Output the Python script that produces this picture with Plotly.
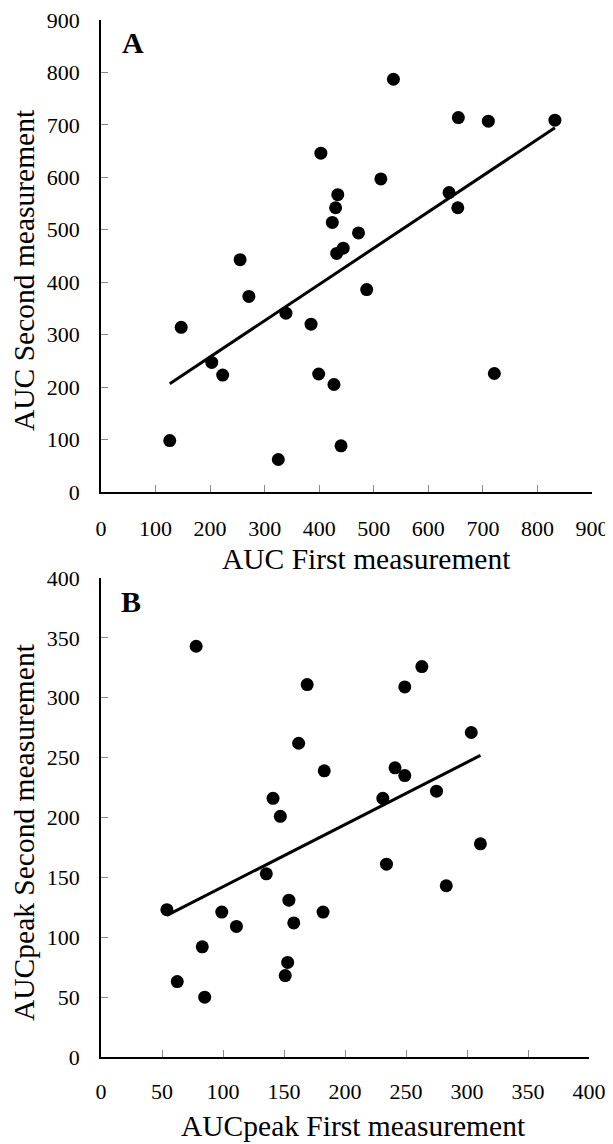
import numpy as np
import plotly.graph_objects as go

# Panel A: AUC
auc_first = [536, 655, 710, 832, 403, 513, 638, 654, 434, 430, 424, 472, 444, 432,
             255, 271, 147, 339, 385, 487, 203, 223, 399, 427, 721, 126, 440, 325]
auc_second = [787, 714, 707, 709, 646, 597, 571, 542, 567, 542, 514, 494, 465, 455,
              443, 373, 314, 341, 320, 386, 247, 223, 225, 205, 226, 98, 88, 62]

# Panel B: AUCpeak
peak_first = [78, 169, 263, 249, 303.5, 162, 183, 241, 249, 275, 231, 141, 147, 311,
              234, 283, 135.5, 154, 182, 158, 54, 99, 111, 83, 62.5, 85, 153, 151]
peak_second = [343, 311, 326, 309, 271, 262, 239, 241.5, 235, 222, 216, 216, 201, 178,
               161, 143, 153, 131, 121, 112, 123, 121, 109, 92, 63, 50, 79, 68]

ticks_a = list(range(0, 901, 100))
ticks_b = list(range(0, 401, 50))

FONT = "Liberation Serif"


def trend(xs, ys):
    c = np.polyfit(xs, ys, 1)
    tx = np.array([min(xs), max(xs)])
    return tx, np.polyval(c, tx)


fig = go.Figure()

for xs, ys, xa, ya in [(auc_first, auc_second, "x", "y"),
                       (peak_first, peak_second, "x2", "y2")]:
    tx, ty = trend(xs, ys)
    fig.add_trace(go.Scatter(x=tx, y=ty, mode="lines",
                             line=dict(color="black", width=3),
                             xaxis=xa, yaxis=ya, showlegend=False, hoverinfo="skip"))
    fig.add_trace(go.Scatter(x=xs, y=ys, mode="markers",
                             marker=dict(color="black", size=13),
                             xaxis=xa, yaxis=ya, showlegend=False))

axis_common = dict(
    showgrid=False, zeroline=False, showline=True, linecolor="black", linewidth=1.5,
    ticks="inside", ticklen=7, tickwidth=1, tickcolor="#8a8a8a", automargin=False,
    ticklabeloverflow="allow",
    tickfont=dict(family=FONT, size=22, color="black"),
)

# the page body adds an 8px offset; lay the figure out in page pixels minus that
OFF = 8
PAGE_W, PAGE_H = 613, 1144
W, H = PAGE_W - OFF, PAGE_H - OFF
L, T = 101 - OFF, 20 - OFF
R, B = PAGE_W - 592, PAGE_H - 1057
pw, ph = W - L - R, H - T - B


def px(xp):
    return (xp - OFF - L) / pw


def py(yp):
    return (H - B - (yp - OFF)) / ph


fig.update_layout(
    template="none",
    width=W, height=H,
    margin=dict(l=L, r=R, t=T, b=B),
    paper_bgcolor="white", plot_bgcolor="white",
    xaxis=dict(domain=[0, 1], range=[0, 900], tickvals=ticks_a,
               ticklabelstandoff=16, anchor="y", **axis_common),
    yaxis=dict(domain=[py(492), 1], range=[0, 900], tickvals=ticks_a,
               ticklabelstandoff=15, anchor="x", **axis_common),
    xaxis2=dict(domain=[0, px(589)], range=[0, 400], tickvals=ticks_b,
                ticklabelstandoff=14, anchor="y2", **axis_common),
    yaxis2=dict(domain=[0, py(578)], range=[0, 400], tickvals=ticks_b,
                ticklabelstandoff=15, anchor="x2", **axis_common),
)

title_font = dict(family=FONT, size=29.5, color="black")
letter_font = dict(family=FONT, size=30, color="black")

annotations = [
    dict(text="<b>A</b>", x=58.6, y=858, xref="x", yref="y", showarrow=False,
         font=letter_font, xanchor="center", yanchor="middle"),
    dict(text="<b>B</b>", x=24.6, y=380, xref="x2", yref="y2", showarrow=False,
         font=letter_font, xanchor="center", yanchor="middle"),
    dict(text="AUC First measurement", x=px(366), y=py(559), xref="paper", yref="paper",
         showarrow=False, font=title_font, xanchor="center", yanchor="middle"),
    dict(text="AUCpeak First measurement", x=px(353), y=py(1126), xref="paper", yref="paper",
         showarrow=False, font=title_font, xanchor="center", yanchor="middle"),
    dict(text="AUC Second measurement", x=px(24), y=py(270), xref="paper", yref="paper",
         showarrow=False, font=title_font, textangle=-90, xanchor="center", yanchor="middle"),
    dict(text="AUCpeak Second measurement", x=px(24), y=py(832), xref="paper", yref="paper",
         showarrow=False, font=title_font, textangle=-90, xanchor="center", yanchor="middle"),
]
fig.update_layout(annotations=annotations)

fig.write_html("out.html")
